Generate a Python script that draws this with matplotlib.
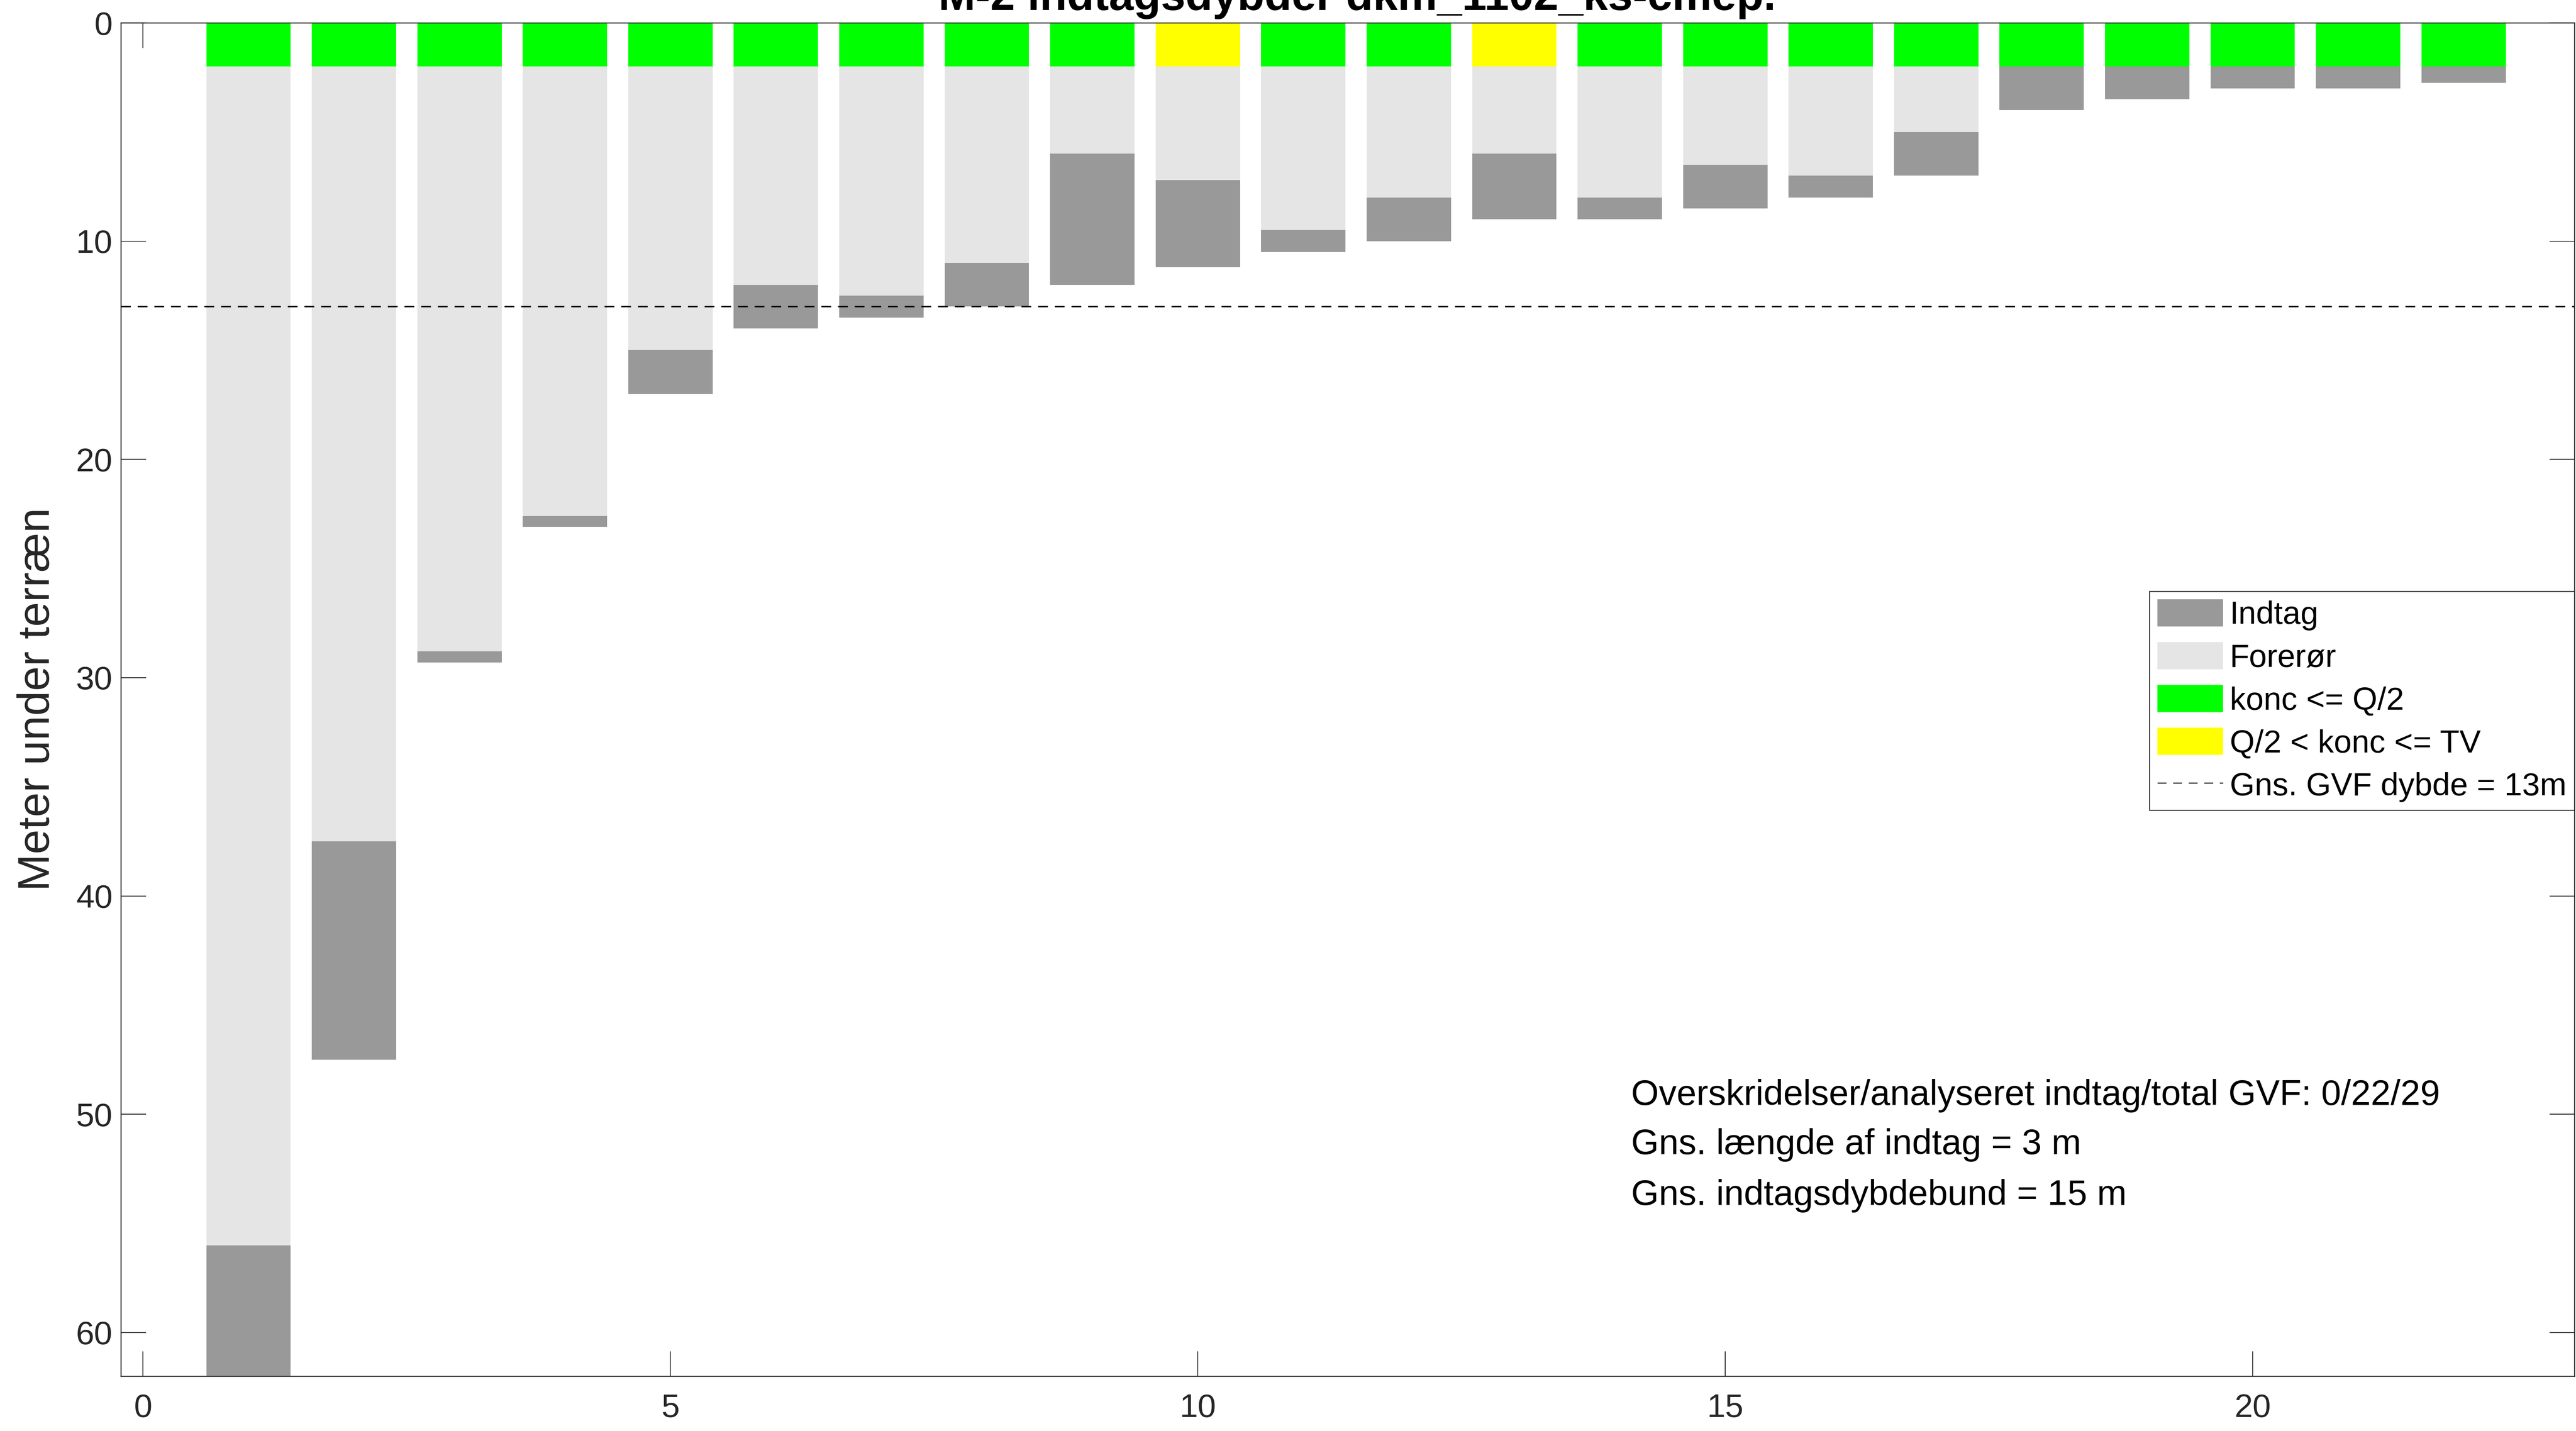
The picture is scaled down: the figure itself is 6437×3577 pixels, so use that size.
import matplotlib
matplotlib.use("Agg")
import matplotlib.pyplot as plt
from matplotlib.patches import Patch
from matplotlib.lines import Line2D

plt.rcParams['font.family'] = ['Liberation Sans', 'DejaVu Sans']

# ---- data ----
well_no = list(range(1, 23))
foreroer_top = [2] * 22
indtag_top = [56, 37.5, 28.8, 22.6, 15, 12, 12.5, 11, 6, 7.2, 9.5, 8, 6, 8, 6.5, 7, 5,
              2, 2, 2, 2, 2]
indtag_bund = [62, 47.5, 29.3, 23.1, 17, 14, 13.5, 13, 12, 11.2, 10.5, 10, 9, 9, 8.5, 8, 7,
               4, 3.5, 3, 3, 2.75]
# 0 = konc <= Q/2 (green), 1 = Q/2 < konc <= TV (yellow)
konc_klasse = [0, 0, 0, 0, 0, 0, 0, 0, 0, 1, 0, 0, 1, 0, 0, 0, 0, 0, 0, 0, 0, 0]
gvf_mean_depth = 13
title_text = "M-2 indtagsdybder dkm_1102_ks-cmep."
legend_labels = ["Indtag", "Forerør", "konc <= Q/2", "Q/2 < konc <= TV",
                 "Gns. GVF dybde = 13m"]
info_lines = ["Overskridelser/analyseret indtag/total GVF: 0/22/29",
              "Gns. længde af indtag = 3 m",
              "Gns. indtagsdybdebund = 15 m"]
xticks = [0, 5, 10, 15, 20]
yticks = [0, 10, 20, 30, 40, 50, 60]

# ---- style ----
C_INDTAG = '#999999'
C_FORER = '#e5e5e5'
C_GREEN = '#00ff00'
C_YELLOW = '#ffff00'
AX_COL = '#262626'

W, H, DPI = 6437, 3577, 100
fig = plt.figure(figsize=(W / DPI, H / DPI), dpi=DPI)
left, right, top, bottom = 302, 6433, 57, 3440
ax = fig.add_axes([left / W, 1 - bottom / H, (right - left) / W, (bottom - top) / H])

klasse_colors = [C_GREEN, C_YELLOW]
bar_w = 0.8
ax.bar(well_no, foreroer_top, bottom=0, width=bar_w,
       color=[klasse_colors[k] for k in konc_klasse], linewidth=0, zorder=2)
ax.bar(well_no, [t - f for t, f in zip(indtag_top, foreroer_top)], bottom=foreroer_top,
       width=bar_w, color=C_FORER, linewidth=0, zorder=2)
ax.bar(well_no, [b - t for b, t in zip(indtag_bund, indtag_top)], bottom=indtag_top,
       width=bar_w, color=C_INDTAG, linewidth=0, zorder=2)

ax.axhline(gvf_mean_depth, color='black', lw=2.5, dashes=(7, 5), zorder=3)

ax.set_xlim(-0.21, 23.05)
ax.set_ylim(62, 0)
ax.set_xticks(xticks)
ax.set_yticks(yticks)
ax.tick_params(axis='both', direction='in', length=45, width=1.5, color=AX_COL,
               labelcolor=AX_COL, labelsize=59, top=True, right=True, zorder=5)
ax.tick_params(axis='y', pad=15)
ax.tick_params(axis='x', pad=31)
for sp in ax.spines.values():
    sp.set_linewidth(1.8)
    sp.set_color(AX_COL)
    sp.set_zorder(5)

ax.set_ylabel("Meter under terræn", fontsize=80, color=AX_COL)
ax.yaxis.set_label_coords(-0.0255, 0.5)

handles = [Patch(facecolor=C_INDTAG, edgecolor='none'),
           Patch(facecolor=C_FORER, edgecolor='none'),
           Patch(facecolor=C_GREEN, edgecolor='none'),
           Patch(facecolor=C_YELLOW, edgecolor='none'),
           Line2D([], [], color=AX_COL, lw=2.0, dashes=(8, 6))]
leg = ax.legend(handles, legend_labels, loc='upper right', bbox_to_anchor=(1.0, 0.580),
                borderaxespad=0, fontsize=57.5, frameon=True, fancybox=False,
                edgecolor=AX_COL, framealpha=1, handlelength=2.05, handleheight=0.93,
                labelspacing=0.36, borderpad=0.25, handletextpad=0.21)
leg.get_frame().set_linewidth(1.8)

for txt, yy in zip(info_lines, [0.2072, 0.1708, 0.1333]):
    ax.text(0.6156, yy, txt, transform=ax.transAxes, fontsize=64, va='center',
            ha='left', color='black')

fig.text(3391 / W, 1 - 25 / H, title_text, fontsize=80, fontweight='bold',
         ha='center', va='baseline', color='black')

fig.savefig("out.png", dpi=DPI)
